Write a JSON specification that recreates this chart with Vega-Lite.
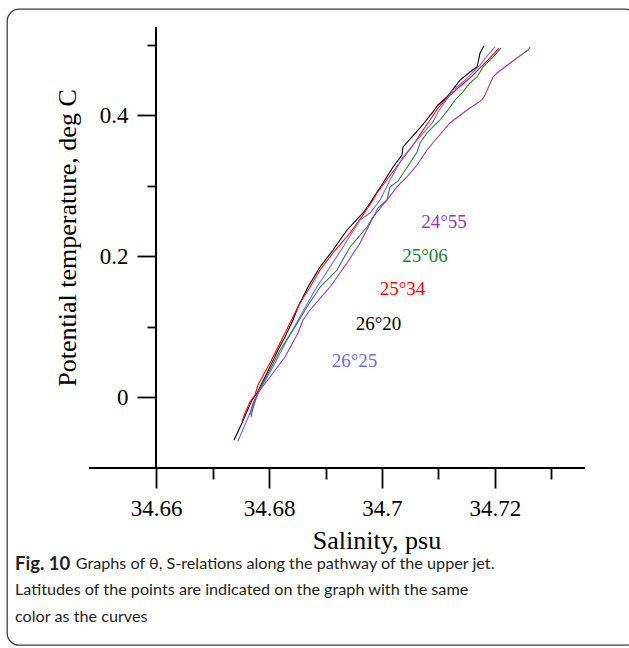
{
  "$schema": "https://vega.github.io/schema/vega-lite/v6.json",
  "width": 630,
  "height": 636,
  "autosize": {"type": "none"},
  "padding": {"left": 7, "top": 9, "right": -8, "bottom": 3},
  "background": "white",
  "config": {
    "view": {"stroke": "#3c3c3c", "strokeWidth": 1.3, "cornerRadius": 12},
    "axis": {"grid": false, "domain": false, "tickColor": "black", "labelColor": "black", "titleColor": "black", "labelFont": "Liberation Serif", "titleFont": "Liberation Serif", "titleFontWeight": "normal"}
  },
  "title": {
    "text": "Fig. 10",
    "subtitle": ["\u200b\u2003\u2003\u2003\u2003\u2002\u2009\u2009Graphs of θ, S-relations along the pathway of the upper jet.", "Latitudes of the points are indicated on the graph with the same", "color as the curves"],
    "orient": "bottom",
    "anchor": "start",
    "frame": "group",
    "offset": -90,
    "dx": 8,
    "baseline": "top",
    "font": "Lato",
    "fontSize": 18.5,
    "fontWeight": "bold",
    "color": "#231f20",
    "subtitleFont": "Lato",
    "subtitleFontSize": 16.2,
    "subtitleColor": "#231f20",
    "subtitleLineHeight": 26.5,
    "subtitlePadding": -18
  },
  "datasets": {
    "curves": [
      {"c": "26°20", "s": 34.67381, "t": -0.0610}, {"c": "26°20", "s": 34.67522, "t": -0.0369}, {"c": "26°20", "s": 34.67699, "t": -0.0043}, {"c": "26°20", "s": 34.67788, "t": 0.0057}, {"c": "26°20", "s": 34.67965, "t": 0.0340}, {"c": "26°20", "s": 34.68159, "t": 0.0667}, {"c": "26°20", "s": 34.68283, "t": 0.0851}, {"c": "26°20", "s": 34.68425, "t": 0.1092}, {"c": "26°20", "s": 34.68513, "t": 0.1277}, {"c": "26°20", "s": 34.6869, "t": 0.1560}, {"c": "26°20", "s": 34.68903, "t": 0.1844}, {"c": "26°20", "s": 34.69133, "t": 0.2085}, {"c": "26°20", "s": 34.69381, "t": 0.2369}, {"c": "26°20", "s": 34.69664, "t": 0.2610}, {"c": "26°20", "s": 34.69788, "t": 0.2752}, {"c": "26°20", "s": 34.70018, "t": 0.3035}, {"c": "26°20", "s": 34.70195, "t": 0.3262}, {"c": "26°20", "s": 34.70354, "t": 0.3433}, {"c": "26°20", "s": 34.70372, "t": 0.3546}, {"c": "26°20", "s": 34.70673, "t": 0.3816}, {"c": "26°20", "s": 34.70903, "t": 0.4043}, {"c": "26°20", "s": 34.70991, "t": 0.4142}, {"c": "26°20", "s": 34.7115, "t": 0.4255}, {"c": "26°20", "s": 34.71381, "t": 0.4496}, {"c": "26°20", "s": 34.71558, "t": 0.4610}, {"c": "26°20", "s": 34.71681, "t": 0.4681}, {"c": "26°20", "s": 34.71699, "t": 0.4738}, {"c": "26°20", "s": 34.71735, "t": 0.4879}, {"c": "26°20", "s": 34.71805, "t": 0.4979},
      {"c": "25°34", "s": 34.67522, "t": -0.0355}, {"c": "25°34", "s": 34.67575, "t": -0.0227}, {"c": "25°34", "s": 34.67664, "t": -0.0071}, {"c": "25°34", "s": 34.67752, "t": 0.0028}, {"c": "25°34", "s": 34.67805, "t": 0.0170}, {"c": "25°34", "s": 34.67929, "t": 0.0355}, {"c": "25°34", "s": 34.68018, "t": 0.0482}, {"c": "25°34", "s": 34.68195, "t": 0.0766}, {"c": "25°34", "s": 34.68372, "t": 0.1050}, {"c": "25°34", "s": 34.68549, "t": 0.1333}, {"c": "25°34", "s": 34.68726, "t": 0.1560}, {"c": "25°34", "s": 34.68903, "t": 0.1801}, {"c": "25°34", "s": 34.69133, "t": 0.2043}, {"c": "25°34", "s": 34.69434, "t": 0.2326}, {"c": "25°34", "s": 34.69664, "t": 0.2582}, {"c": "25°34", "s": 34.69841, "t": 0.2794}, {"c": "25°34", "s": 34.69912, "t": 0.2894}, {"c": "25°34", "s": 34.70177, "t": 0.3177}, {"c": "25°34", "s": 34.70442, "t": 0.3461}, {"c": "25°34", "s": 34.70531, "t": 0.3546}, {"c": "25°34", "s": 34.70726, "t": 0.3787}, {"c": "25°34", "s": 34.7085, "t": 0.3929}, {"c": "25°34", "s": 34.70991, "t": 0.4099}, {"c": "25°34", "s": 34.7115, "t": 0.4241}, {"c": "25°34", "s": 34.71345, "t": 0.4383}, {"c": "25°34", "s": 34.71558, "t": 0.4525}, {"c": "25°34", "s": 34.71735, "t": 0.4667}, {"c": "25°34", "s": 34.71912, "t": 0.4809}, {"c": "25°34", "s": 34.72071, "t": 0.4950},
      {"c": "26°25", "s": 34.67451, "t": -0.0624}, {"c": "26°25", "s": 34.67611, "t": -0.0326}, {"c": "26°25", "s": 34.67699, "t": -0.0156}, {"c": "26°25", "s": 34.67805, "t": 0.0057}, {"c": "26°25", "s": 34.68071, "t": 0.0426}, {"c": "26°25", "s": 34.68319, "t": 0.0809}, {"c": "26°25", "s": 34.68584, "t": 0.1191}, {"c": "26°25", "s": 34.68814, "t": 0.1518}, {"c": "26°25", "s": 34.6908, "t": 0.1844}, {"c": "26°25", "s": 34.6931, "t": 0.2128}, {"c": "26°25", "s": 34.69611, "t": 0.2511}, {"c": "26°25", "s": 34.69788, "t": 0.2610}, {"c": "26°25", "s": 34.69965, "t": 0.2794}, {"c": "26°25", "s": 34.70142, "t": 0.3078}, {"c": "26°25", "s": 34.70372, "t": 0.3404}, {"c": "26°25", "s": 34.7062, "t": 0.3645}, {"c": "26°25", "s": 34.70903, "t": 0.3901}, {"c": "26°25", "s": 34.70991, "t": 0.4043}, {"c": "26°25", "s": 34.71115, "t": 0.4184}, {"c": "26°25", "s": 34.71257, "t": 0.4355}, {"c": "26°25", "s": 34.71434, "t": 0.4468}, {"c": "26°25", "s": 34.71558, "t": 0.4567}, {"c": "26°25", "s": 34.71735, "t": 0.4709}, {"c": "26°25", "s": 34.71876, "t": 0.4851}, {"c": "26°25", "s": 34.72, "t": 0.4965},
      {"c": "25°06", "s": 34.67681, "t": -0.0284}, {"c": "25°06", "s": 34.67717, "t": -0.0156}, {"c": "25°06", "s": 34.67805, "t": 0.0071}, {"c": "25°06", "s": 34.68018, "t": 0.0383}, {"c": "25°06", "s": 34.68195, "t": 0.0667}, {"c": "25°06", "s": 34.6846, "t": 0.0993}, {"c": "25°06", "s": 34.68673, "t": 0.1277}, {"c": "25°06", "s": 34.68903, "t": 0.1560}, {"c": "25°06", "s": 34.69204, "t": 0.1801}, {"c": "25°06", "s": 34.69434, "t": 0.2128}, {"c": "25°06", "s": 34.69735, "t": 0.2411}, {"c": "25°06", "s": 34.69841, "t": 0.2553}, {"c": "25°06", "s": 34.70088, "t": 0.2794}, {"c": "25°06", "s": 34.70142, "t": 0.2979}, {"c": "25°06", "s": 34.70283, "t": 0.3064}, {"c": "25°06", "s": 34.70496, "t": 0.3319}, {"c": "25°06", "s": 34.7062, "t": 0.3475}, {"c": "25°06", "s": 34.70673, "t": 0.3603}, {"c": "25°06", "s": 34.70796, "t": 0.3745}, {"c": "25°06", "s": 34.71027, "t": 0.3929}, {"c": "25°06", "s": 34.71168, "t": 0.4071}, {"c": "25°06", "s": 34.71292, "t": 0.4213}, {"c": "25°06", "s": 34.71416, "t": 0.4312}, {"c": "25°06", "s": 34.71558, "t": 0.4454}, {"c": "25°06", "s": 34.71681, "t": 0.4539}, {"c": "25°06", "s": 34.71788, "t": 0.4681}, {"c": "25°06", "s": 34.71965, "t": 0.4823}, {"c": "25°06", "s": 34.72106, "t": 0.4950},
      {"c": "24°55", "s": 34.67664, "t": -0.0255}, {"c": "24°55", "s": 34.67717, "t": -0.0085}, {"c": "24°55", "s": 34.67841, "t": 0.0099}, {"c": "24°55", "s": 34.68018, "t": 0.0284}, {"c": "24°55", "s": 34.68283, "t": 0.0567}, {"c": "24°55", "s": 34.68513, "t": 0.0908}, {"c": "24°55", "s": 34.68602, "t": 0.1092}, {"c": "24°55", "s": 34.68726, "t": 0.1234}, {"c": "24°55", "s": 34.6908, "t": 0.1560}, {"c": "24°55", "s": 34.69381, "t": 0.1901}, {"c": "24°55", "s": 34.69611, "t": 0.2184}, {"c": "24°55", "s": 34.69929, "t": 0.2681}, {"c": "24°55", "s": 34.70088, "t": 0.2794}, {"c": "24°55", "s": 34.70265, "t": 0.2979}, {"c": "24°55", "s": 34.70442, "t": 0.3121}, {"c": "24°55", "s": 34.7062, "t": 0.3291}, {"c": "24°55", "s": 34.70796, "t": 0.3504}, {"c": "24°55", "s": 34.70973, "t": 0.3674}, {"c": "24°55", "s": 34.71204, "t": 0.3887}, {"c": "24°55", "s": 34.71504, "t": 0.4071}, {"c": "24°55", "s": 34.7177, "t": 0.4213}, {"c": "24°55", "s": 34.71823, "t": 0.4284}, {"c": "24°55", "s": 34.71965, "t": 0.4539}, {"c": "24°55", "s": 34.72035, "t": 0.4596}, {"c": "24°55", "s": 34.72319, "t": 0.4766}, {"c": "24°55", "s": 34.72584, "t": 0.4922}, {"c": "24°55", "s": 34.7262, "t": 0.4965}
    ],
    "labels": [
      {"c": "24°55", "s": 34.71097, "t": 0.2397},
      {"c": "25°06", "s": 34.70761, "t": 0.1915},
      {"c": "25°34", "s": 34.70363, "t": 0.1447},
      {"c": "26°20", "s": 34.69938, "t": 0.0950},
      {"c": "26°25", "s": 34.69513, "t": 0.0426}
    ]
  },
  "layer": [
    {
      "data": {"name": "curves"},
      "mark": {"type": "line", "strokeWidth": 1.1},
      "encoding": {
        "x": {
          "field": "s", "type": "quantitative",
          "scale": {"domain": [34.633628, 34.745133], "nice": false, "zero": false},
          "axis": {
            "orient": "bottom", "offset": -177,
            "values": [34.66, 34.67, 34.68, 34.69, 34.70, 34.71, 34.72, 34.73],
            "tickWidth": 1.8,
            "tickSize": {"condition": {"test": "round(datum.value*100) % 2 == 0", "value": 20}, "value": 11},
            "labelExpr": "round(datum.value*100) % 2 == 0 ? format(datum.value, '.2~f') : ''",
            "labelFontSize": 23, "labelPadding": 9, "labelFlush": false, "labelOverlap": false,
            "title": "Salinity, psu", "titleFontSize": 26, "titleX": 369.5, "titleY": 80,
            "titleBaseline": "alphabetic", "titleAlign": "center"
          }
        },
        "y": {
          "field": "t", "type": "quantitative",
          "scale": {"domain": [-0.351773, 0.550355], "nice": false, "zero": false},
          "axis": {
            "orient": "left", "offset": -149,
            "values": [0, 0.1, 0.2, 0.3, 0.4, 0.5],
            "tickWidth": 1.8,
            "tickSize": {"condition": {"test": "round(datum.value*10) % 2 == 0", "value": 19}, "value": 9},
            "labelExpr": "round(datum.value*10) % 2 == 0 ? format(datum.value, '.1~f') : ''",
            "labelFontSize": 23, "labelPadding": 9, "labelFlush": false, "labelOverlap": false,
            "title": "Potential temperature, deg C", "titleFontSize": 26, "titleX": -81, "titleY": 228.5,
            "titleAngle": 270, "titleBaseline": "alphabetic", "titleAlign": "center"
          }
        },
        "color": {
          "field": "c", "type": "nominal",
          "scale": {"domain": ["24°55", "25°06", "25°34", "26°20", "26°25"], "range": ["#9933cc", "#2a7d3c", "#ff0000", "#000000", "#6b6bff"]},
          "legend": null
        },
        "order": {"field": "t", "type": "quantitative"}
      }
    },
    {
      "data": {"values": [{}]},
      "mark": {"type": "rule", "strokeWidth": 2, "color": "black"},
      "encoding": {
        "x": {"datum": 34.64814, "type": "quantitative"},
        "x2": {"datum": 34.73593},
        "y": {"datum": -0.1007, "type": "quantitative"}
      }
    },
    {
      "data": {"values": [{}]},
      "mark": {"type": "rule", "strokeWidth": 2, "color": "black"},
      "encoding": {
        "x": {"datum": 34.66, "type": "quantitative"},
        "y": {"datum": -0.1007, "type": "quantitative"},
        "y2": {"datum": 0.5248}
      }
    },
    {
      "data": {"name": "labels"},
      "mark": {"type": "text", "font": "Liberation Serif", "fontSize": 19, "align": "center", "baseline": "alphabetic"},
      "encoding": {
        "x": {"field": "s", "type": "quantitative"},
        "y": {"field": "t", "type": "quantitative"},
        "text": {"field": "c"},
        "color": {"field": "c", "type": "nominal", "legend": null}
      }
    }
  ]
}
